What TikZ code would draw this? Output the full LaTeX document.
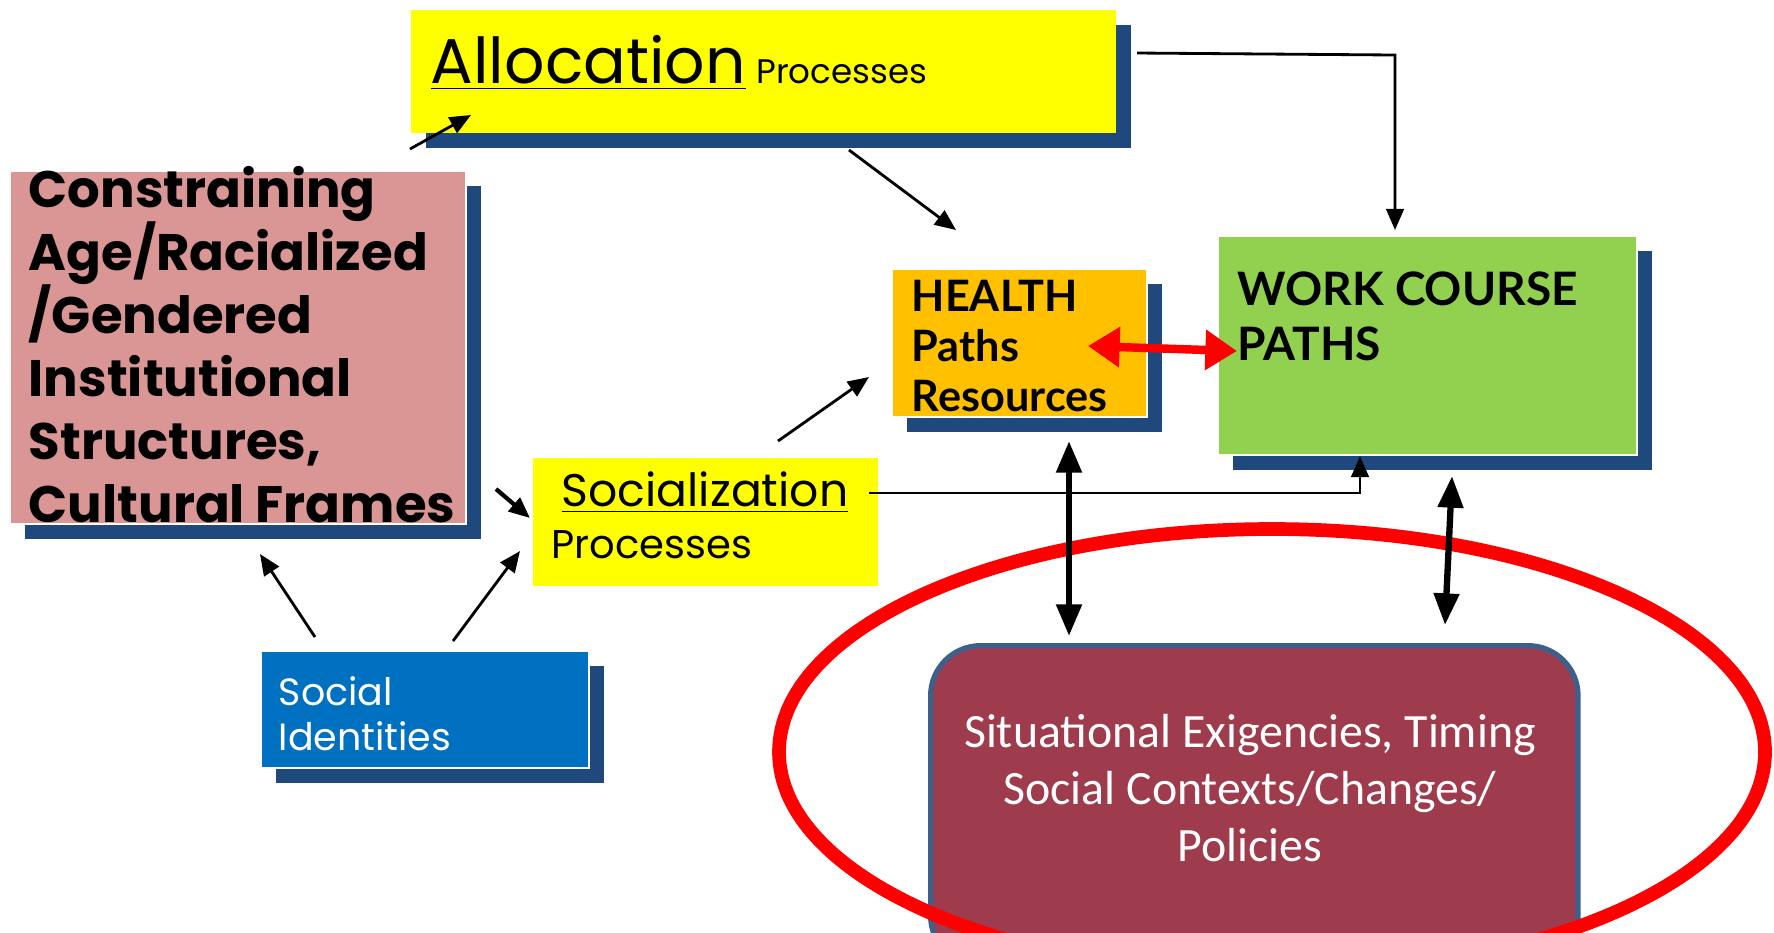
\documentclass[tikz,border=0pt]{standalone}
\usepackage{fontspec}
\usetikzlibrary{arrows.meta,shadows}
\newfontfamily\gothic{Poppins}
\newfontfamily\calib{Carlito}
\newfontfamily\heavy{Lato}
\definecolor{allocyellow}{HTML}{FFFF00}
\definecolor{shadowblue}{HTML}{1F497D}
\definecolor{constrpink}{HTML}{D99694}
\definecolor{healthorange}{HTML}{FFC000}
\definecolor{workgreen}{HTML}{92D050}
\definecolor{identblue}{HTML}{0070C0}
\definecolor{contextred}{HTML}{9E3B4C}
\definecolor{contextedge}{HTML}{3D5F8C}
\begin{document}
\begin{tikzpicture}[x=0.01cm,y=-0.01cm,
		panel/.style={rectangle,inner sep=0pt,anchor=north west,draw=white,line width=0.5pt},
		shadowed/.style={general shadow={fill=shadowblue,shadow xshift=0.15cm,shadow yshift=-0.15cm}},
		txt/.style={inner sep=0pt,anchor=base west},
		link/.style={line width=0.8pt,-{Triangle[length=6pt,width=5pt]}},
		twoway/.style={line width=1.8pt,{Triangle[length=9pt,width=7pt]}-{Triangle[length=9pt,width=7pt]}}]
	\useasboundingbox (0,0) rectangle (1774,932);
	\clip (0,0) rectangle (1774,932);
	\node[panel,shadowed,fill=allocyellow,draw=none,minimum width=7.05cm,minimum height=1.23cm] (alloc) at (410,9) {};
	\node[panel,shadowed,fill=constrpink,minimum width=4.56cm,minimum height=3.53cm] (constr) at (9,170) {};
	\node[panel,shadowed,fill=healthorange,minimum width=2.55cm,minimum height=1.48cm] (health) at (891,268) {};
	\node[panel,shadowed,fill=workgreen,minimum width=4.19cm,minimum height=2.19cm] (work) at (1217,235) {};
	\node[panel,fill=allocyellow,draw=none,minimum width=3.45cm,minimum height=1.28cm] (social) at (532,457) {};
	\node[panel,shadowed,fill=identblue,minimum width=3.28cm,minimum height=1.17cm] (ident) at (260,650) {};
	\node[panel,fill=contextred,draw=contextedge,line width=1.5pt,rounded corners=0.5cm,minimum width=6.47cm,minimum height=3.2cm] (context) at (928,643) {};
	\draw[red,line width=3.9pt] (1272,752) ellipse (493 and 223);
	\node[txt] (alloc-t) at (430,83) {\gothic\fontsize{18}{22}\selectfont\underline{Allocation}\,{\fontsize{9.7}{12}\selectfont Processes}};
	\node[inner sep=0pt,anchor=north west,align=left,font=\gothic\bfseries\fontsize{14.6}{17.9}\selectfont] (constr-t) at (28,166) {Constraining\\Age/Racialized\\/Gendered\\Institutional\\Structures,\\Cultural Frames};
	\node[inner sep=0pt,anchor=north west,align=left,font=\heavy\bfseries\fontsize{12.3}{14.1}\selectfont] (health-t) at (911,280) {HEALTH\\Paths\\Resources};
	\node[inner sep=0pt,anchor=north west,align=left,font=\heavy\bfseries\fontsize{13.1}{15.6}\selectfont] (work-t) at (1237,271) {WORK COURSE\\PATHS};
	\node[txt,font=\gothic\fontsize{13}{15}\selectfont] (social-t) at (561,506) {\underline{Socialization}};
	\node[txt,font=\gothic\fontsize{11.4}{14}\selectfont] (social-p) at (551,558) {Processes};
	\node[inner sep=0pt,anchor=north west,align=left,text=white,font=\gothic\fontsize{10.8}{12.8}\selectfont] (ident-t) at (278,676) {Social\\Identities};
	\node[inner sep=0pt,anchor=north,align=center,text=white,font=\calib\fontsize{13.6}{16.1}\selectfont] (context-t) at (1250,714) {Situational Exigencies, Timing\\Social Contexts/Changes/\\Policies};
	\coordinate (constr-up) at (410,149);
	\coordinate (alloc-in) at (471,115);
	\coordinate (alloc-out) at (849,150);
	\coordinate (health-in) at (956,230);
	\coordinate (alloc-r) at (1137,53);
	\coordinate (work-in) at (1395,230);
	\coordinate (constr-out) at (496,489);
	\coordinate (social-in) at (530,518);
	\coordinate (social-out) at (778,441);
	\coordinate (health-sw) at (869,377);
	\coordinate (social-r) at (869,493);
	\coordinate (work-s) at (1360,456);
	\coordinate (ident-l) at (315,637);
	\coordinate (constr-s) at (260,554);
	\coordinate (ident-r) at (453,641);
	\coordinate (social-sw) at (520,551);
	\coordinate (health-r) at (1088,346);
	\coordinate (work-l) at (1237,351);
	\coordinate (health-s) at (1069,441);
	\coordinate (context-n) at (1069,636);
	\coordinate (work-se) at (1452,476);
	\coordinate (ring-n) at (1445,625);
	\draw[link] (constr-up) -- (alloc-in);
	\draw[link] (alloc-out) -- (health-in);
	\draw[link] (alloc-r) -- (1395,55) -- (work-in);
	\draw[link,line width=1.2pt] (constr-out) -- (social-in);
	\draw[link] (social-out) -- (health-sw);
	\draw[link] (social-r) -| (work-s);
	\draw[link] (ident-l) -- (constr-s);
	\draw[link] (ident-r) -- (social-sw);
	\draw[red,line width=2.4pt,{Triangle[length=9pt,width=11pt]}-{Triangle[length=9pt,width=11pt]}] (health-r) -- (work-l);
	\draw[twoway] (health-s) -- (context-n);
	\draw[twoway] (work-se) -- (ring-n);
\end{tikzpicture}
\end{document}
